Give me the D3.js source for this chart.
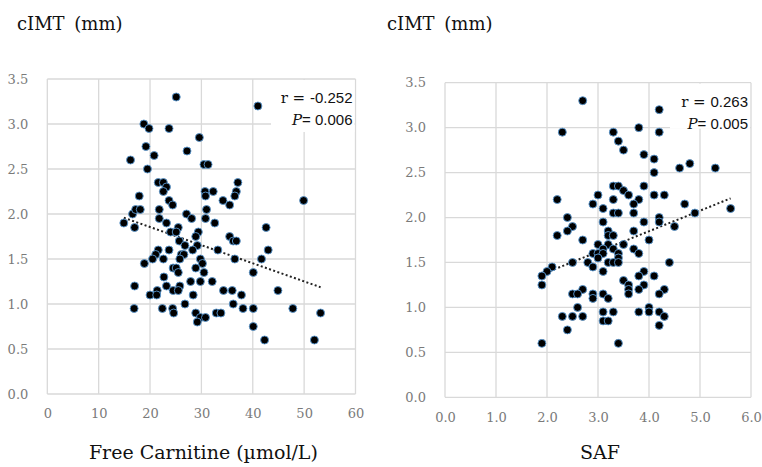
<!DOCTYPE html>
<html>
<head>
<meta charset="utf-8">
<script src="https://cdn.jsdelivr.net/npm/d3@7"></script>
<style>
  body { margin: 0; background: #fff; }
  .tick text { font-family: "DejaVu Serif", serif; font-size: 13px; fill: #7a7a7a; }
</style>
</head>
<body>
<script>
// left panel: free carnitine vs cIMT
var carnitine = [25.1,41.0,18.8,19.8,23.7,29.6,19.2,27.2,20.8,16.2,30.5,31.3,19.5,21.6,22.6,23.2,22.6,37.1,36.8,36.5,
  30.7,32.3,30.8,17.9,23.7,24.4,34.2,35.5,49.9,16.6,17.2,18.1,21.8,27.1,28.1,21.8,23.2,31.0,30.8,32.6,
  14.9,17.0,24.0,25.5,25.1,29.4,28.9,42.6,35.5,36.2,36.8,25.7,26.8,29.2,28.3,33.2,43.0,21.6,23.7,21.1,
  26.1,26.6,20.5,22.6,25.8,29.8,30.2,36.5,41.7,18.9,24.5,25.1,28.9,25.5,30.5,40.1,22.7,27.9,29.8,32.1,
  17.0,23.2,25.8,21.4,24.5,25.5,34.3,36.0,44.9,20.0,21.3,28.4,37.8,26.8,36.2,16.9,22.4,24.4,38.1,40.1,
  47.8,24.6,28.9,32.9,33.8,53.2,29.8,30.8,29.2,40.1,42.3,52.0];
var cimtA = [3.3,3.2,3.0,2.95,2.95,2.85,2.75,2.7,2.65,2.6,2.55,2.55,2.5,2.35,2.35,2.3,2.25,2.35,2.25,2.2,
  2.25,2.25,2.2,2.2,2.15,2.1,2.15,2.1,2.15,2.0,2.05,2.05,2.05,2.0,1.95,1.95,1.9,2.05,1.95,1.9,
  1.9,1.85,1.8,1.85,1.8,1.8,1.75,1.85,1.75,1.7,1.7,1.7,1.65,1.65,1.6,1.6,1.6,1.6,1.6,1.55,
  1.55,1.55,1.5,1.5,1.5,1.5,1.45,1.5,1.5,1.45,1.4,1.4,1.4,1.35,1.35,1.35,1.3,1.25,1.25,1.25,
  1.2,1.2,1.2,1.15,1.15,1.15,1.15,1.15,1.15,1.1,1.1,1.1,1.1,1.0,1.0,0.95,0.95,0.95,0.95,0.95,
  0.95,0.9,0.9,0.9,0.9,0.9,0.85,0.85,0.8,0.75,0.6,0.6];

// right panel: SAF vs cIMT
var saf = [2.7,4.2,2.3,3.3,3.8,4.2,3.4,3.5,3.9,4.1,4.6,4.8,5.3,4.1,3.3,3.4,3.9,3.5,2.2,3.0,
  3.6,4.1,4.3,3.3,3.8,2.9,3.7,4.7,3.1,5.6,3.3,3.4,3.7,4.9,2.4,4.2,3.1,3.9,4.2,2.5,
  4.5,2.4,3.2,3.7,2.2,3.2,3.3,2.7,4.0,3.0,3.2,3.5,3.7,3.1,3.3,2.9,3.0,3.1,3.4,3.8,
  3.0,3.4,2.5,2.8,3.2,3.3,3.4,4.4,2.9,2.1,2.0,3.1,3.9,1.9,3.8,4.1,3.5,3.6,1.9,3.9,
  2.7,3.6,3.8,4.3,2.5,2.6,2.9,3.1,3.6,4.2,2.9,3.2,4.0,2.6,2.3,2.5,2.7,3.1,3.3,3.8,
  4.0,4.2,4.3,3.1,3.2,2.4,4.2,1.9,3.4];
var cimtB = [3.3,3.2,2.95,2.95,3.0,2.95,2.85,2.75,2.7,2.65,2.55,2.6,2.55,2.5,2.35,2.35,2.35,2.3,2.2,2.25,
  2.25,2.25,2.25,2.2,2.2,2.15,2.15,2.15,2.1,2.1,2.05,2.05,2.05,2.05,2.0,2.0,1.95,1.95,1.95,1.9,
  1.9,1.85,1.85,1.85,1.8,1.8,1.8,1.75,1.75,1.7,1.7,1.7,1.65,1.65,1.65,1.6,1.6,1.6,1.6,1.6,
  1.55,1.55,1.5,1.5,1.5,1.5,1.5,1.5,1.45,1.45,1.4,1.4,1.4,1.35,1.35,1.35,1.3,1.25,1.25,1.25,
  1.2,1.2,1.2,1.2,1.15,1.15,1.15,1.15,1.15,1.15,1.1,1.1,1.0,1.0,0.9,0.9,0.9,0.95,0.95,0.95,
  0.95,0.95,0.9,0.85,0.85,0.75,0.8,0.6,0.6];

var yTicks = [0, 0.5, 1.0, 1.5, 2.0, 2.5, 3.0, 3.5];
var xTicksA = [0, 10, 20, 30, 40, 50, 60];
var xTicksB = [0, 1, 2, 3, 4, 5, 6];

var svg = d3.select("body").append("svg").attr("width", 762).attr("height", 467);

function panel(o) {
  var x = d3.scaleLinear().domain([o.xTicks[0], o.xTicks[o.xTicks.length - 1]]).range([o.left, o.right]);
  var y = d3.scaleLinear().domain([0, 3.5]).range([o.bottom, o.top]);
  var g = svg.append("g");

  // grid
  g.selectAll(".gx").data(o.xTicks).enter().append("line")
    .attr("x1", d => x(d)).attr("x2", d => x(d)).attr("y1", o.top).attr("y2", o.bottom)
    .attr("stroke", "#d9d9d9").attr("stroke-width", 1.3);
  g.selectAll(".gy").data(yTicks).enter().append("line")
    .attr("x1", o.left).attr("x2", o.right).attr("y1", d => y(d)).attr("y2", d => y(d))
    .attr("stroke", "#d9d9d9").attr("stroke-width", 1.3);

  // axes labels only
  var ax = g.append("g").attr("transform", "translate(0," + o.bottom + ")")
    .call(d3.axisBottom(x).tickValues(o.xTicks).tickFormat(o.xFmt).tickSize(0).tickPadding(15));
  var ay = g.append("g").attr("transform", "translate(" + o.left + ",0)")
    .call(d3.axisLeft(y).tickValues(yTicks).tickFormat(d3.format(".1f")).tickSize(0).tickPadding(19));
  ax.select(".domain").remove();
  ay.select(".domain").remove();

  // trend line (least squares)
  var mx = d3.mean(o.xs), my = d3.mean(o.ys);
  var sxy = d3.sum(o.xs, (v, i) => (v - mx) * (o.ys[i] - my));
  var sxx = d3.sum(o.xs, v => (v - mx) * (v - mx));
  var b = sxy / sxx, a = my - b * mx;
  var ext = d3.extent(o.xs);
  g.append("path")
    .attr("d", d3.line().x(d => x(d)).y(d => y(a + b * d))(ext))
    .attr("stroke", "#222").attr("stroke-width", 2).attr("stroke-dasharray", "2,2.4")
    .attr("fill", "none");

  // points
  g.selectAll(".pt").data(o.xs).enter().append("circle")
    .attr("cx", d => x(d)).attr("cy", (d, i) => y(o.ys[i])).attr("r", 4)
    .attr("fill", "#000").attr("stroke", "#5b9bd5").attr("stroke-width", 0.9);

  // stats box
  g.append("rect").attr("x", o.boxX).attr("y", o.top + 1).attr("width", o.right - o.boxX - 1)
    .attr("height", o.boxH).attr("fill", "#fff");
  var t1 = g.append("text").attr("x", o.right - 3).attr("y", o.top + 24).attr("text-anchor", "end")
    .style("font-family", "'DejaVu Serif', serif").style("font-size", "15px").attr("fill", "#111");
  t1.append("tspan").text("r = ");
  t1.append("tspan").style("font-family", "'Liberation Sans', sans-serif").text(o.r);
  var t2 = g.append("text").attr("x", o.right - 3).attr("y", o.top + 46).attr("text-anchor", "end")
    .style("font-family", "'DejaVu Serif', serif").style("font-size", "15px").attr("fill", "#111");
  t2.append("tspan").style("font-style", "italic").text("P");
  t2.append("tspan").style("font-family", "'Liberation Sans', sans-serif").text("= " + o.p);

  // titles
  svg.append("text").attr("x", o.titleX).attr("y", 30)
    .style("font-family", "'DejaVu Serif', serif").style("font-size", "18px")
    .style("word-spacing", "4px").attr("fill", "#111")
    .text("cIMT (mm)");
  svg.append("text").attr("x", (o.left + o.right) / 2 + 2).attr("y", 459).attr("text-anchor", "middle")
    .style("font-family", "'DejaVu Serif', serif").style("font-size", "19px").attr("fill", "#111")
    .text(o.xTitle);
}

panel({ xs: carnitine, ys: cimtA, xTicks: xTicksA, xFmt: d3.format("d"),
  left: 47.3, right: 355.5, top: 79, bottom: 394, boxX: 271, boxH: 52,
  r: "-0.252", p: "0.006", titleX: 17, xTitle: "Free Carnitine (\u00b5mol/L)" });
panel({ xs: saf, ys: cimtB, xTicks: xTicksB, xFmt: d3.format(".1f"),
  left: 445, right: 751, top: 82.7, bottom: 397.3, boxX: 670, boxH: 45,
  r: "0.263", p: "0.005", titleX: 387, xTitle: "SAF" });
</script>
</body>
</html>
